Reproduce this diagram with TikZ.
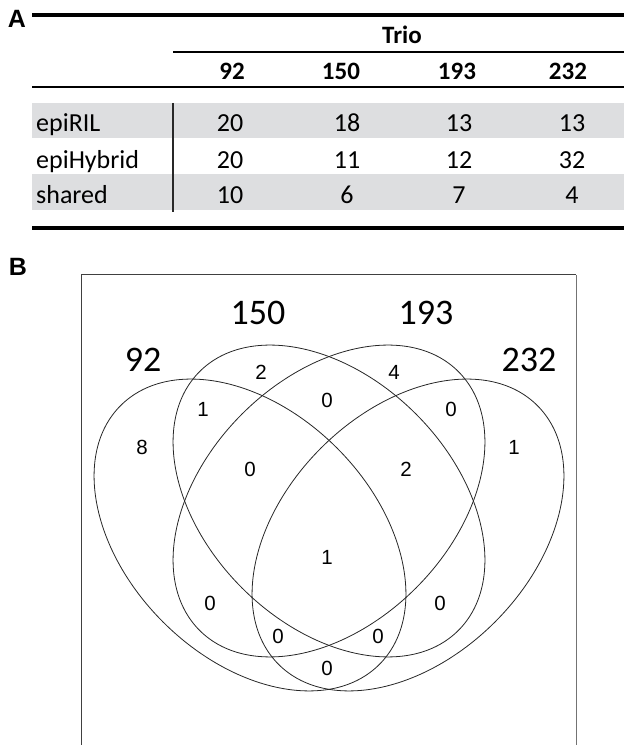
\documentclass[tikz,border=0pt]{standalone}
\usepackage{fontspec}
\setmainfont{Carlito}
\newfontfamily\helv{Liberation Sans}
\definecolor{band}{RGB}{221,222,224}
\definecolor{vline}{RGB}{40,40,40}
\begin{document}
\begin{tikzpicture}[x=1pt,y=1pt,
  tabtxt/.style={anchor=base,inner sep=0pt,font=\fontsize{26}{30}\selectfont},
  tabhead/.style={anchor=base,inner sep=0pt,font=\fontsize{25}{30}\selectfont\bfseries},
  rowlab/.style={anchor=base west,inner sep=0pt,font=\fontsize{26}{30}\selectfont},
  panel/.style={inner sep=0pt,font=\helv\fontsize{25}{28}\selectfont\bfseries},
  setlab/.style={inner sep=0pt,font=\fontsize{36}{40}\selectfont},
  regnum/.style={inner sep=0pt,font=\helv\fontsize{20.5}{24}\selectfont},
  vennline/.style={line width=0.8pt,draw=black!85}]
\useasboundingbox (0,0) rectangle (624,745);
% ---------- Panel A ----------
\node[panel] (A) at (17,726) {A};
\fill[band] (32,607) rectangle (624,642);
\fill[band] (32,535) rectangle (624,571);
\draw[line width=4pt] (32,730) -- (624,730);
\draw[line width=2.5pt] (173,693) -- (624,693);
\draw[line width=2pt] (32,658) -- (624,658);
\draw[line width=2pt,vline] (173,642) -- (173,533);
\draw[line width=4pt] (32,517) -- (624,517);
\node[tabhead] (trio) at (402,701) {Trio};
\node[tabhead] (h1) at (232,665) {92};
\node[tabhead] (h2) at (341,665) {150};
\node[tabhead] (h3) at (457,665) {193};
\node[tabhead] (h4) at (568,665) {232};
\node[rowlab] (r1) at (36,613.3) {epiRIL};
\node[rowlab] (r2) at (36,576.7) {epiHybrid};
\node[rowlab] (r3) at (36,541.7) {shared};
\node[tabtxt] (c11) at (230,613.3) {20};
\node[tabtxt] (c12) at (347,613.3) {18};
\node[tabtxt] (c13) at (459,613.3) {13};
\node[tabtxt] (c14) at (572,613.3) {13};
\node[tabtxt] (c21) at (230,576.7) {20};
\node[tabtxt] (c22) at (347,576.7) {11};
\node[tabtxt] (c23) at (459,576.7) {12};
\node[tabtxt] (c24) at (572,576.7) {32};
\node[tabtxt] (c31) at (230,541.7) {10};
\node[tabtxt] (c32) at (347,541.7) {6};
\node[tabtxt] (c33) at (459,541.7) {7};
\node[tabtxt] (c34) at (572,541.7) {4};
% ---------- Panel B ----------
\node[panel] (B) at (18,478) {B};
\draw[line width=1pt,black!75] (81,-2) -- (81,470) -- (576,470);
\draw[line width=1pt,black!55] (576,470) -- (576,-2);
% ellipses
\draw[vennline] (250,210) ellipse [x radius=183, y radius=123, rotate=-45];
\draw[vennline] (329,244) ellipse [x radius=183, y radius=123, rotate=-45];
\draw[vennline] (329,244) ellipse [x radius=183, y radius=123, rotate=45];
\draw[vennline] (408,210) ellipse [x radius=183, y radius=123, rotate=45];
% set labels
\node[setlab] (s92) at (143,385) {92};
\node[setlab] (s150) at (258,432) {150};
\node[setlab] (s193) at (426,432) {193};
\node[setlab] (s232) at (529,385) {232};
% region counts
\node[regnum] (n1) at (142,298) {8};
\node[regnum] (n2) at (261,373) {2};
\node[regnum] (n3) at (394,373) {4};
\node[regnum] (n4) at (514,298) {1};
\node[regnum] (n5) at (203,336) {1};
\node[regnum] (n6) at (327,345) {0};
\node[regnum] (n7) at (451,336) {0};
\node[regnum] (n8) at (250,276) {0};
\node[regnum] (n9) at (406,276) {2};
\node[regnum] (n10) at (327,188) {1};
\node[regnum] (n11) at (210,142) {0};
\node[regnum] (n12) at (440,142) {0};
\node[regnum] (n13) at (278,109) {0};
\node[regnum] (n14) at (378,109) {0};
\node[regnum] (n15) at (327,77) {0};
\end{tikzpicture}
\end{document}
